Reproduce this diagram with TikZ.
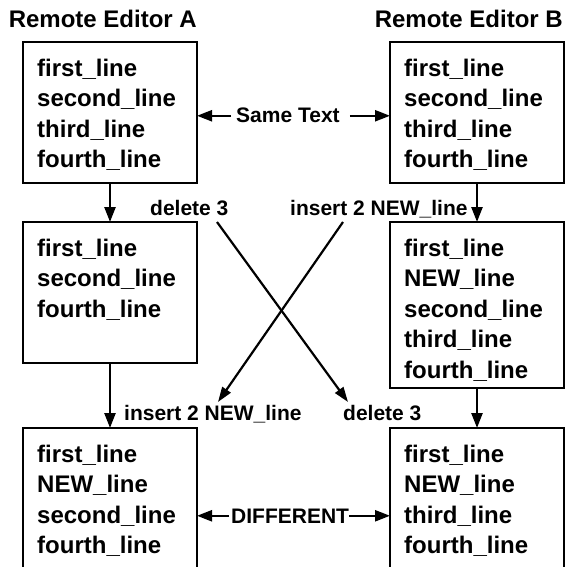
\documentclass[tikz,border=0pt]{standalone}
\usepackage{fontspec}
\setmainfont{Liberation Sans}
\usetikzlibrary{arrows.meta}
\begin{document}
\begin{tikzpicture}[x=1pt,y=-1pt,
  box/.style={draw, line width=2.6pt, inner sep=0pt, outer sep=0pt, anchor=north west, minimum width=174pt},
  lines/.style={anchor=north west, inner sep=0pt, align=left, font=\bfseries\fontsize{24}{30.5}\selectfont},
  title/.style={anchor=base east, inner sep=0pt, font=\bfseries\fontsize{24}{29}\selectfont},
  lbl/.style={anchor=base west, inner sep=0pt, font=\bfseries\fontsize{21}{25}\selectfont},
  arr/.style={line width=2.4pt, -{Triangle[length=15pt,width=11pt]}},
  xarr/.style={line width=2.2pt, -{Triangle[length=15pt,width=10pt]}}]
\useasboundingbox (0,0) rectangle (565,567);
\fill[white] (0,0) rectangle (565,567);
\clip (0,0) rectangle (565,567);
% titles
\node[title] (TA) at (197,27.5) {Remote Editor A};
\node[title] (TB) at (563,27.5) {Remote Editor B};
% boxes
\node[box, minimum height=141pt] (A1) at (23,42) {};
\node[box, minimum height=141pt] (B1) at (390,42) {};
\node[box, minimum height=141pt] (A2) at (23,222) {};
\node[box, minimum height=166pt] (B2) at (390,222) {};
\node[box, minimum height=200pt] (A3) at (23,428) {};
\node[box, minimum height=200pt] (B3) at (390,428) {};
% box texts
\node[lines] (A1t) at ([shift={(14pt,-16.5pt)}]A1.north west) {first\_line\\second\_line\\third\_line\\fourth\_line};
\node[lines] (B1t) at ([shift={(14pt,-16.5pt)}]B1.north west) {first\_line\\second\_line\\third\_line\\fourth\_line};
\node[lines] (A2t) at ([shift={(14pt,-16.5pt)}]A2.north west) {first\_line\\second\_line\\fourth\_line};
\node[lines] (B2t) at ([shift={(14pt,-16.5pt)}]B2.north west) {first\_line\\NEW\_line\\second\_line\\third\_line\\fourth\_line};
\node[lines] (A3t) at ([shift={(14pt,-16.5pt)}]A3.north west) {first\_line\\NEW\_line\\second\_line\\fourth\_line};
\node[lines] (B3t) at ([shift={(14pt,-16.5pt)}]B3.north west) {first\_line\\NEW\_line\\third\_line\\fourth\_line};
% vertical arrows
\draw[arr] (A1.south) -- (A2.north);
\draw[arr] (A2.south) -- (A3.north);
\draw[arr] (B1.south) -- (B2.north);
\draw[arr] (B2.south) -- (B3.north);
% crossing arrows
\coordinate (d1s) at (217,222);
\coordinate (d1e) at (348,402);
\coordinate (i1s) at (343,222);
\coordinate (i1e) at (218,402);
\draw[xarr] (d1s) -- (d1e);
\draw[xarr] (i1s) -- (i1e);
% labels
\node[lbl] (del1) at (150,215) {delete 3};
\node[lbl] (ins1) at (290,215) {insert 2 NEW\_line};
\node[lbl] (ins2) at (124,420) {insert 2 NEW\_line};
\node[lbl] (del2) at (343,420) {delete 3};
% same text
\node[lbl] (same) at (236,123) {Same Text};
\draw[arr] ([xshift=-5pt]same.west) -- (same.west -| A1.east);
\draw[arr] ([xshift=10pt]same.east) -- (same.east -| B1.west);
% different
\node[lbl] (diff) at (231,523) {DIFFERENT};
\draw[arr] ([xshift=-2pt]diff.west) -- (diff.west -| A3.east);
\draw[arr] (diff.east) -- (diff.east -| B3.west);
\end{tikzpicture}
\end{document}
